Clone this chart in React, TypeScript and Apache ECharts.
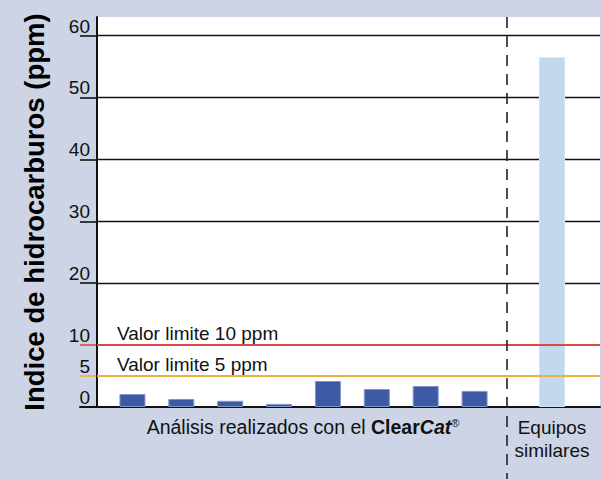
import React, { useEffect, useRef } from 'react';
import * as echarts from 'echarts';

const clearCatRuns = ['1', '2', '3', '4', '5', '6', '7', '8'];
const clearCatValues = [2.1, 1.3, 1.0, 0.5, 4.2, 2.9, 3.4, 2.6];
const similarCategories = ['Equipos similares'];
const similarValues = [56.5];
const yLabels = [0, 5, 10, 20, 30, 40, 50, 60];
const gridLines = [20, 30, 40, 50, 60];
const limitValues = [10, 5];
const limitNames = ['Valor limite 10 ppm', 'Valor limite 5 ppm'];
const limitColors = ['#d94a42', '#e9b23c'];
const Y_MAX = 63;
const Y_STEP = 5;

const FONT = '"Liberation Sans", Arial, Helvetica, sans-serif';

function tickValues(): number[] {
  const t: number[] = [];
  for (let v = 0; v <= Y_MAX; v += Y_STEP) t.push(v);
  if (t[t.length - 1] !== Y_MAX) t.push(Y_MAX);
  return t;
}

function lineColors(withLimits: boolean): string[] {
  return tickValues().map((v) => {
    const li = limitValues.indexOf(v);
    if (li >= 0) return withLimits ? limitColors[li] : 'rgba(0,0,0,0)';
    if (gridLines.indexOf(v) >= 0) return '#111111';
    return 'rgba(0,0,0,0)';
  });
}

function yAxisBase(gridIndex: number) {
  return {
    type: 'value',
    gridIndex,
    min: 0,
    max: Y_MAX,
    interval: Y_STEP,
    axisLine: { show: false },
    axisTick: { show: false },
    axisLabel: { show: false },
    splitLine: { show: false },
  };
}

export default function App() {
  const ref = useRef<HTMLDivElement>(null);
  useEffect(() => {
    if (!ref.current) return;
    const chart = echarts.init(ref.current, null, { renderer: 'svg' });
    const option: any = {
      animation: false,
      grid: [
        { left: 97, right: 2, top: 17, bottom: 72, show: true, backgroundColor: '#ffffff', borderWidth: 0 },
        { left: 80, width: 17, top: 17, bottom: 72 },
        { left: 108, width: 391, top: 17, bottom: 72 },
        { left: 527, width: 50, top: 17, bottom: 72 },
      ],
      xAxis: [
        {
          type: 'category', gridIndex: 0, data: [''],
          axisLine: { show: true, lineStyle: { color: '#111', width: 2 } },
          axisTick: { show: false }, axisLabel: { show: false },
        },
        {
          type: 'category', gridIndex: 1, data: [''],
          axisLine: { show: true, lineStyle: { color: '#111', width: 2 } },
          axisTick: { show: false }, axisLabel: { show: false },
        },
        {
          type: 'category', gridIndex: 2, data: clearCatRuns,
          axisLine: { show: false }, axisTick: { show: false }, axisLabel: { show: false },
        },
        {
          type: 'category', gridIndex: 3, data: similarCategories,
          axisLine: { show: false }, axisTick: { show: false }, axisLabel: { show: false },
        },
      ],
      yAxis: [
        {
          ...yAxisBase(0),
          axisLine: { show: true, lineStyle: { color: '#111', width: 2 } },
          axisLabel: {
            show: true,
            margin: 7,
            color: '#111',
            fontSize: 19,
            fontFamily: FONT,
            verticalAlign: 'bottom',
            formatter: (v: number) => (yLabels.indexOf(v) >= 0 ? String(v) : ''),
          },
          splitLine: { show: true, showMinLine: true, showMaxLine: true, lineStyle: { color: lineColors(false), width: 1.3 } },
        },
        {
          ...yAxisBase(1),
          splitLine: { show: true, showMinLine: true, showMaxLine: true, lineStyle: { color: lineColors(true), width: 1.6 } },
        },
        yAxisBase(2),
        yAxisBase(3),
      ],
      series: [
        {
          type: 'line',
          xAxisIndex: 0,
          yAxisIndex: 0,
          data: ['-'],
          silent: true,
          symbol: 'none',
          markLine: {
            silent: true,
            symbol: 'none',
            label: {
              show: true,
              position: 'insideStartTop',
              formatter: '{b}',
              color: '#111',
              fontSize: 19,
              fontFamily: FONT,
              distance: [20, 2],
            },
            data: limitValues.map((v, i) => ({
              yAxis: v,
              name: limitNames[i],
              lineStyle: { color: limitColors[i], width: 2, type: 'solid' },
            })),
          },
        },
        {
          type: 'bar',
          xAxisIndex: 2,
          yAxisIndex: 2,
          data: clearCatValues,
          barWidth: 26,
          itemStyle: { color: '#3d5aa4', borderColor: '#8196c8', borderWidth: 1 },
          z: 3,
        },
        {
          type: 'bar',
          xAxisIndex: 3,
          yAxisIndex: 3,
          data: similarValues,
          barWidth: 26,
          itemStyle: { color: '#c2d8ef', borderColor: '#d5e4f4', borderWidth: 1 },
          z: 3,
        },
      ],
      graphic: [
        {
          type: 'text',
          x: 34,
          y: 212,
          rotation: Math.PI / 2,
          style: {
            text: 'Indice de hidrocarburos (ppm)',
            font: `bold 27.5px ${FONT}`,
            fill: '#000',
            align: 'center',
            verticalAlign: 'middle',
          },
        },
        {
          type: 'line',
          shape: { x1: 507, y1: 17, x2: 507, y2: 479 },
          style: { stroke: '#222', lineWidth: 1.6, lineDash: [11, 8] },
          z: 10,
        },
        {
          type: 'text',
          x: 303,
          y: 427,
          style: {
            text: 'Análisis realizados con el {b|Clear}{bi|Cat}{sup|®}',
            rich: {
              b: { fontWeight: 'bold', fontSize: 19.5, fontFamily: FONT, fill: '#111' },
              bi: { fontWeight: 'bold', fontStyle: 'italic', fontSize: 19.5, fontFamily: FONT, fill: '#111' },
              sup: { fontSize: 11, fontFamily: FONT, fill: '#111', verticalAlign: 'top', padding: [0, 0, 8, 0] },
            },
            font: `19.5px ${FONT}`,
            fill: '#111',
            align: 'center',
            verticalAlign: 'middle',
          },
        },
        {
          type: 'text',
          x: 552,
          y: 439,
          style: {
            text: 'Equipos\nsimilares',
            font: `19px ${FONT}`,
            lineHeight: 23,
            fill: '#111',
            align: 'center',
            verticalAlign: 'middle',
          },
        },
      ],
    };
    chart.setOption(option);
    return () => chart.dispose();
  }, []);
  return (
    <div
      ref={ref}
      style={{ position: 'fixed', left: 0, top: 0, width: 602, height: 479, background: '#cdd4e6' }}
    />
  );
}
